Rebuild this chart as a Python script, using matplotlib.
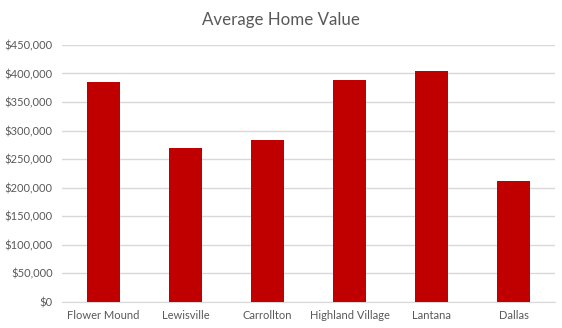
import matplotlib.pyplot as plt
import numpy as np
from matplotlib.ticker import FuncFormatter

cities = ['Flower Mound', 'Lewisville', 'Carrollton', 'Highland Village', 'Lantana', 'Dallas']
home_values = [385000, 270000, 284000, 388000, 404000, 212000]
y_ticks = np.arange(0, 450001, 50000)

plt.rcParams['font.family'] = ['Lato', 'DejaVu Sans']

fig = plt.figure(figsize=(5.62, 3.28), dpi=100)
ax = fig.add_axes([0.111, 0.080, 0.876, 0.783])

x_pos = np.arange(len(cities))
ax.bar(x_pos, home_values, width=0.4, color='#C00000', zorder=3)

ax.set_xlim(-0.5, len(cities) - 0.5)
ax.set_ylim(0, 450000)
ax.set_yticks(y_ticks)
ax.yaxis.set_major_formatter(FuncFormatter(lambda v, _: f'${v:,.0f}'))
ax.set_xticks(x_pos)
ax.set_xticklabels(cities)

ax.grid(axis='y', color='#D9D9D9', linewidth=1, zorder=0)
for side in ['top', 'right', 'left']:
    ax.spines[side].set_visible(False)
ax.spines['bottom'].set_color('#D9D9D9')
ax.tick_params(axis='both', length=0, labelsize=8, colors='#595959')
ax.tick_params(axis='y', pad=7)
ax.tick_params(axis='x', pad=6)

fig.text(0.5, 0.94, 'Average Home Value', ha='center', va='center',
         fontsize=12.2, color='#595959')

fig.savefig('out.png', dpi=100)
